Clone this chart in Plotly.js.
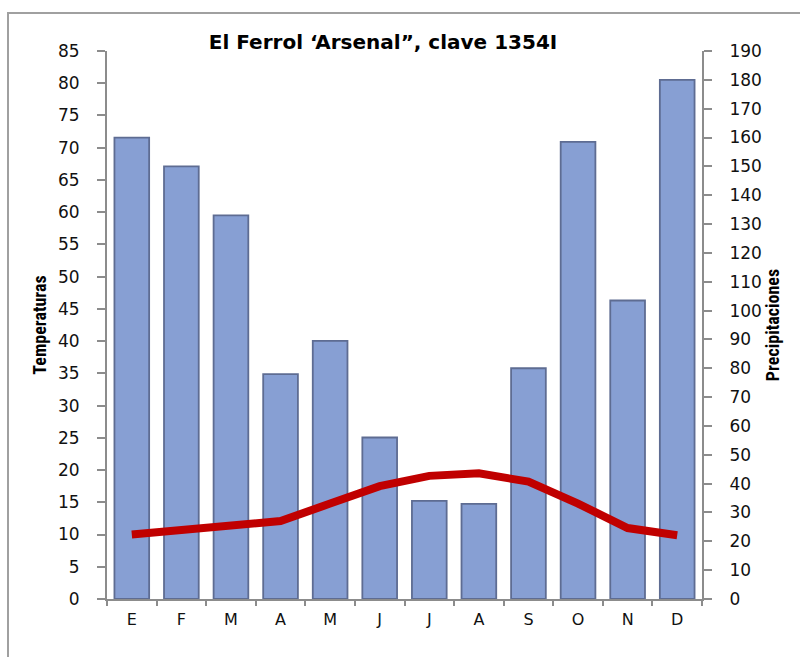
<!DOCTYPE html>
<html>
<head>
<meta charset="utf-8">
<script src="https://cdn.plot.ly/plotly-3.0.1.min.js"></script>
<style>
  html, body { margin: 0; padding: 0; background: #ffffff; }
  #wrap { position: relative; width: 800px; height: 657px; }
  #chart { position: absolute; left: 0; top: 0; width: 800px; height: 657px; }
  #frame { position: absolute; left: 7px; top: 12px; width: 820px; height: 680px;
           border-left: 2px solid #a0a0a0; border-top: 2px solid #a0a0a0; pointer-events: none; }
</style>
</head>
<body>
<div id="wrap">
  <div id="chart"></div>
  <div id="frame"></div>
</div>
<script>
const months = ["E", "F", "M", "A", "M ", "J", "J ", "A ", "S", "O", "N", "D"];
const precipitaciones = [160, 150, 133, 78, 89.5, 56, 34, 33, 80, 158.5, 103.5, 180];
const temperaturas = [10.0, 10.7, 11.5, 12.1, 14.8, 17.5, 19.1, 19.5, 18.2, 14.8, 11.0, 9.9];
const tickLabels = ["E", "F", "M", "A", "M", "J", "J", "A", "S", "O", "N", "D"];

const barTrace = {
  type: "bar",
  x: months,
  y: precipitaciones,
  yaxis: "y",
  width: 0.7,
  marker: { color: "#879fd3", line: { color: "#5e6c92", width: 1.8 } },
  hoverinfo: "x+y",
  name: "Precipitaciones"
};
const lineTrace = {
  type: "scatter",
  mode: "lines",
  x: months,
  y: temperaturas,
  yaxis: "y2",
  line: { color: "#c00000", width: 8, shape: "linear" },
  name: "Temperaturas"
};

const axisColor = "#8c8c8c";
const tickFont = { family: "DejaVu Sans, Verdana, sans-serif", size: 17, color: "#111111" };
const titleFont = { family: "Liberation Sans Narrow, Roboto Condensed, DejaVu Sans Condensed, sans-serif", size: 18, color: "#000000", weight: "bold" };

const layout = {
  width: 800,
  height: 657,
  margin: { l: 107, r: 98, t: 51, b: 58 },
  paper_bgcolor: "#ffffff",
  plot_bgcolor: "rgba(0,0,0,0)",
  showlegend: false,
  bargap: 0.3,
  title: {
    text: "<b>El Ferrol ‘Arsenal”, clave 1354I</b>",
    font: { family: "DejaVu Sans, Verdana, sans-serif", size: 20, color: "#000000" },
    x: 383 / 800, xanchor: "center", xref: "container",
    y: 1 - 42 / 657, yanchor: "middle", yref: "container"
  },
  xaxis: {
    type: "category",
    tickvals: months,
    ticktext: tickLabels,
    showgrid: false,
    zeroline: false,
    showline: true,
    linecolor: axisColor,
    linewidth: 2,
    ticks: "outside",
    tickson: "boundaries",
    ticklen: 5,
    tickwidth: 2,
    tickcolor: axisColor,
    tickfont: { family: "DejaVu Sans, Verdana, sans-serif", size: 16, color: "#111111" },
    ticklabelstandoff: 5
  },
  yaxis: {
    side: "right",
    range: [0, 190],
    dtick: 10,
    tick0: 0,
    showgrid: false,
    zeroline: false,
    showline: true,
    linecolor: axisColor,
    linewidth: 2,
    ticks: "outside",
    ticklen: 8,
    tickwidth: 2,
    tickcolor: axisColor,
    tickfont: tickFont,
    ticklabelstandoff: 14,
    title: { text: "Precipitaciones", font: titleFont, standoff: 0 }
  },
  yaxis2: {
    overlaying: "y",
    side: "left",
    range: [0, 85],
    dtick: 5,
    tick0: 0,
    showgrid: false,
    zeroline: false,
    showline: true,
    linecolor: axisColor,
    linewidth: 2,
    ticks: "outside",
    ticklen: 8,
    tickwidth: 2,
    tickcolor: axisColor,
    tickfont: tickFont,
    ticklabelstandoff: 14,
    title: { text: "Temperaturas", font: titleFont, standoff: 7 }
  }
};

Plotly.newPlot("chart", [barTrace, lineTrace], layout, { displayModeBar: false, staticPlot: true });
</script>
</body>
</html>
